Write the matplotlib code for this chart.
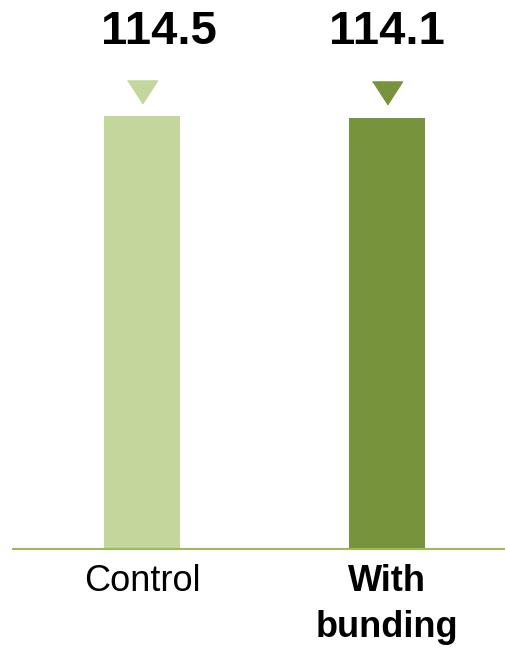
import numpy as np
import matplotlib.pyplot as plt

categories = ['Control', 'With\nbunding']
values = [114.5, 114.1]
colors = ['#c3d69b', '#77933c']

plt.rcParams['font.family'] = ['Liberation Sans', 'DejaVu Sans']

fig = plt.figure(figsize=(5.06, 6.51), dpi=100)
ax = fig.add_axes([13 / 506, 1 - 549 / 651, 493 / 506, 549 / 651])

x = np.arange(len(categories))
ax.bar(x, values, width=0.31, color=colors, zorder=2)

# triangle markers above each bar, value labels on a common line
tri = [(-1, 0.77), (1, 0.77), (0, -0.77)]
for xi, v, c in zip(x, values, colors):
    ax.plot(xi, v + 6.5, marker=tri, markersize=21.6, color=c, linestyle='none')
    ax.text(xi + (0.07 if xi == 0 else 0), values[0] + 22.3, '{:.1f}'.format(v),
            ha='center', va='center', fontsize=34, fontweight='bold')

ax.set_xlim(-0.527, 1.486)
ax.set_ylim(0, 145.2)
ax.set_yticks([])
ax.set_xticks(x)
ax.set_xticklabels(categories, fontsize=26, linespacing=1.38)
ax.get_xticklabels()[1].set_fontweight('bold')
ax.tick_params(axis='x', length=0, pad=11)
for s in ['top', 'right', 'left']:
    ax.spines[s].set_visible(False)
ax.spines['bottom'].set_color('#9bbb59')
ax.spines['bottom'].set_linewidth(1.5)

fig.savefig('out.png', dpi=100)
